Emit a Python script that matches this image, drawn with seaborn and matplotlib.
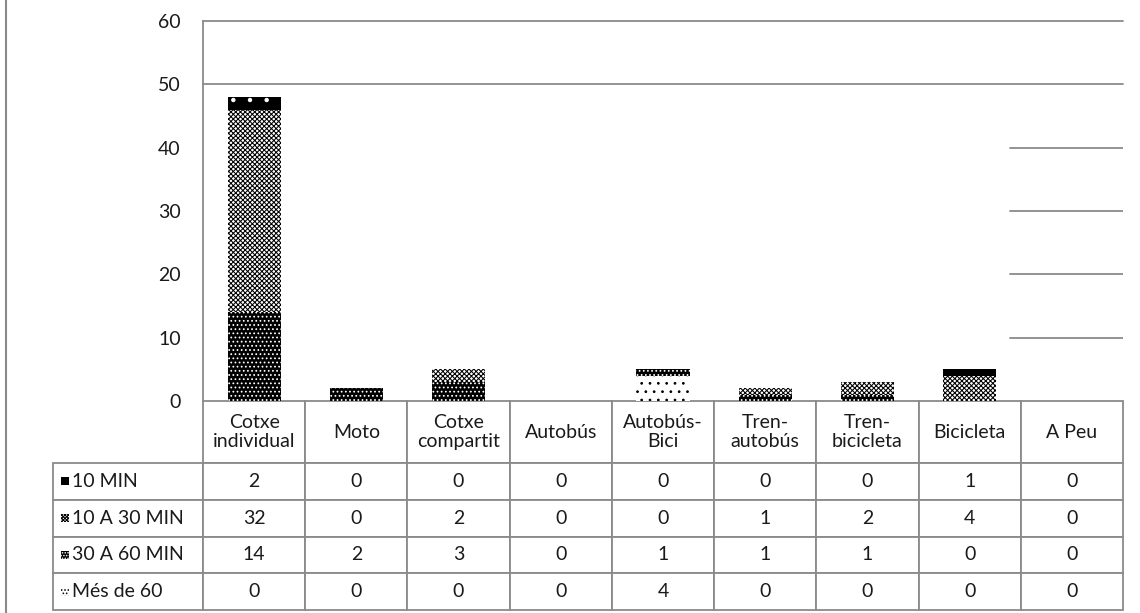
import matplotlib
matplotlib.use("Agg")
import matplotlib.pyplot as plt
from matplotlib.lines import Line2D
from matplotlib.patches import Rectangle
import pandas as pd
import seaborn as sns

# --- data -------------------------------------------------------------
categories = ["Cotxe individual", "Moto", "Cotxe compartit", "Autobús",
              "Autobús-Bici", "Tren-autobús", "Tren-bicicleta", "Bicicleta", "A Peu"]
header_labels = ["Cotxe\nindividual", "Moto", "Cotxe\ncompartit", "Autobús",
                 "Autobús-\nBici", "Tren-\nautobús", "Tren-\nbicicleta", "Bicicleta", "A Peu"]
series_names = ["10 MIN", "10 A 30 MIN", "30 A 60 MIN", "Més de 60"]
min_10 = [2, 0, 0, 0, 0, 0, 0, 1, 0]
min_10_30 = [32, 0, 2, 0, 0, 1, 2, 4, 0]
min_30_60 = [14, 2, 3, 0, 1, 1, 1, 0, 0]
mes_60 = [0, 0, 0, 0, 4, 0, 0, 0, 0]
y_ticks = [0, 10, 20, 30, 40, 50, 60]

# --- style ------------------------------------------------------------
sns.set_style("white")
plt.rcParams["font.family"] = ["Lato", "DejaVu Sans"]
plt.rcParams["hatch.linewidth"] = 0.75

GRAY = "#8a8a8a"
INK = "#1a1a1a"
W, H = 1140, 613

# face colour, hatch colour, bar hatch, legend-key hatch
styles = {
    "10 MIN": ("black", "white", ".", ""),
    "10 A 30 MIN": ("white", "black", "xxxxxxx", "xxxxxxxxxx"),
    "30 A 60 MIN": ("black", "white", "....", "......"),
    "Més de 60": ("white", "black", "..", "....."),
}

values = [min_10, min_10_30, min_30_60, mes_60]
df = pd.DataFrame(dict(zip(series_names, values)), index=categories)
stack_order = ["Més de 60", "30 A 60 MIN", "10 A 30 MIN", "10 MIN"]  # bottom -> top
cum = df[stack_order].cumsum(axis=1)

fig = plt.figure(figsize=(W / 100, H / 100), dpi=100)
ax = fig.add_axes([203 / W, 1 - 401 / H, 920 / W, 380 / H])

# stacked bars: draw cumulative totals from the top layer down
for name in reversed(stack_order):
    face, hcol, hatch, _ = styles[name]
    sns.barplot(x=categories, y=cum[name].values, order=categories, color=face,
                edgecolor=hcol, linewidth=0, hatch=hatch, width=0.52,
                saturation=1, errorbar=None, ax=ax)

ax.set_ylim(0, 60)
ax.set_xlim(-0.5, len(categories) - 0.5)
ax.set_yticks(y_ticks)
ax.set_xlabel("")
ax.set_ylabel("")
ax.tick_params(axis="x", length=0, labelbottom=False)
ax.tick_params(axis="y", direction="in", length=9.5, width=1.3, color=GRAY,
               pad=16, labelsize=14, labelcolor=INK)
for side in ("top", "right", "bottom"):
    ax.spines[side].set_visible(False)
ax.spines["left"].set_color(GRAY)
ax.spines["left"].set_linewidth(1.3)

# horizontal rules
for y in (50, 60):
    ax.axhline(y, color=GRAY, lw=1.3, clip_on=False, zorder=0.5)
for y in (10, 20, 30, 40):
    ax.axhline(y, xmin=0.877, xmax=1, color=GRAY, lw=1.3, zorder=0.5)

# data table under the bars; first column holds the series names
cell_text = [[name] + [str(v) for v in row] for name, row in zip(series_names, values)]
tbl = ax.table(cellText=cell_text, colLabels=[""] + header_labels,
               cellLoc="center",
               bbox=[-150 / 920, -209 / 380, 1070 / 920, 209 / 380])
tbl.auto_set_font_size(False)
tbl.set_fontsize(14)
tbl.set_clip_on(False)
for (r, c), cell in tbl.get_celld().items():
    cell.set_height(62 if r == 0 else 36.75)
    cell.set_width(150 if c == 0 else 920 / 9)
    cell.set_edgecolor(GRAY)
    cell.set_linewidth(1.3)
    cell.get_text().set_color(INK)
    if c == 0:
        cell.get_text().set_horizontalalignment("left")
        cell._loc = "left"
        cell.PAD = 19 / 150
        if r == 0:
            cell.visible_edges = ""

# legend keys in the series-name cells
for i, name in enumerate(series_names):
    face, hcol, _, key_hatch = styles[name]
    yc = 463 + 36.75 * (i + 0.5)
    fig.add_artist(Rectangle((61 / W, 1 - (yc + 4) / H), 8 / W, 8 / H,
                             transform=fig.transFigure, facecolor=face,
                             edgecolor=hcol, hatch=key_hatch, linewidth=0, zorder=5))

# outer frame edge
fig.add_artist(Line2D([6 / W, 6 / W], [0, 1], transform=fig.transFigure,
                      color=GRAY, lw=1.5))

fig.savefig("out.png", dpi=100)
